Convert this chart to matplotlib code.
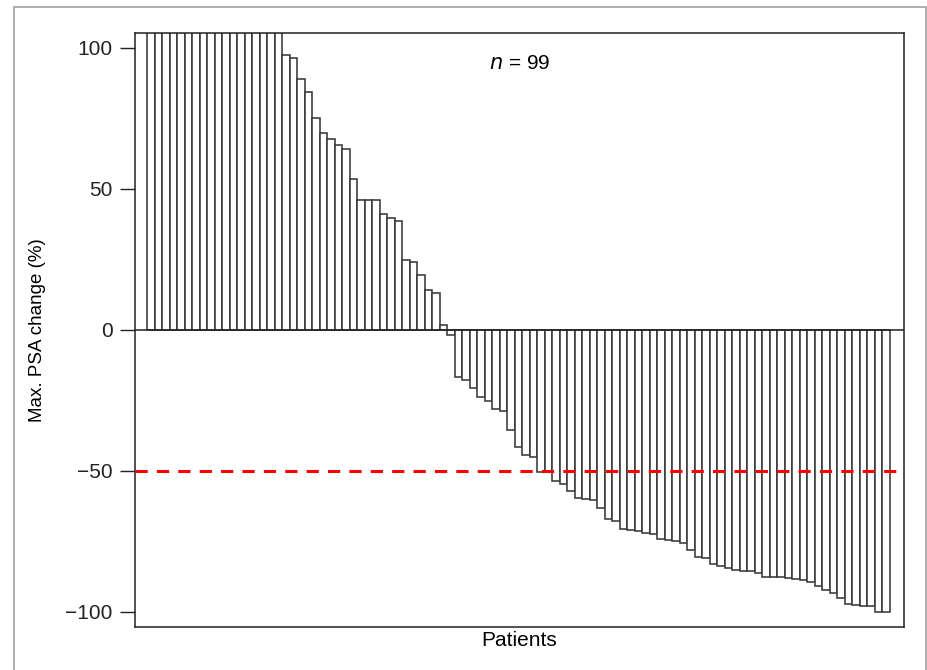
import matplotlib
matplotlib.use("Agg")
import matplotlib.pyplot as plt
from matplotlib.patches import Rectangle

plt.rcParams['font.family'] = ['Liberation Sans', 'DejaVu Sans']

# Bars that run off the top of the plot (values above the axis limit; estimated)
clipped = [400, 360, 320, 290, 260, 240, 220, 200, 185, 170, 160, 150, 140, 130, 125, 118, 112, 108]
# Visible positive changes
positive = [97.5, 96.3, 88.9, 84.2, 75.1, 69.7, 67.8, 65.7, 64.3, 53.4, 46.1, 46.1,
            46.1, 40.9, 39.7, 38.7, 24.9, 24.2, 19.5, 14.1, 13.1, 1.8]
# Negative changes
negative = [-1.8, -16.7, -17.8, -20.8, -23.8, -25.4, -28.1, -29.0, -35.6, -41.7,
            -44.4, -45.0, -50.4, -50.5, -53.8, -54.8, -57.1, -59.7, -60.0, -60.4,
            -63.2, -67.0, -67.8, -70.6, -71.0, -71.3, -72.0, -72.5, -74.2, -74.6,
            -75.1, -75.8, -78.1, -80.7, -81.1, -83.3, -83.9, -84.6, -85.2, -85.5,
            -85.6, -86.3, -87.6, -87.6, -87.8, -88.2, -88.4, -88.8, -89.6, -90.8,
            -92.3, -93.5, -95.1, -97.3, -97.6, -97.9, -98.2, -100.2, -100.3]

psa_change = clipped + positive + negative
patients = list(range(len(psa_change)))
y_ticks = [-100, -50, 0, 50, 100]
threshold = -50
n_label = "99"

fig = plt.figure(figsize=(9.28, 6.70), dpi=100)
fig.patch.set_facecolor('white')
# outer grey frame
fig.patches.append(Rectangle((14 / 928, -0.01), (926 - 14) / 928, 1 - 7 / 670 + 0.01,
                             transform=fig.transFigure, fill=False,
                             edgecolor='#a0a0a0', linewidth=1.2))

ax = fig.add_axes([135 / 928, 1 - 627 / 670, (904 - 135) / 928, (627 - 33) / 670])
ax.bar(patients, psa_change, width=1.0, color='white', edgecolor='#383838',
       linewidth=1.15, zorder=2)
ax.axhline(0, color='#222222', linewidth=1.1, zorder=3)
ax.axhline(threshold, color='#ff0000', linewidth=2.2, dashes=(4, 3), zorder=4)

ax.set_xlim(-2.14, 100.37)
ax.set_ylim(-105.5, 105.3)
ax.set_xticks([])
ax.set_yticks(y_ticks)
ax.set_yticklabels([f"{t}".replace('-', '\u2212') for t in y_ticks])
ax.tick_params(axis='y', length=11, width=1.0, pad=5, labelsize=15, colors='#222222')
for s in ax.spines.values():
    s.set_color('#222222')
    s.set_linewidth(1.1)

ax.set_xlabel("Patients", fontsize=15, labelpad=3)
ax.set_ylabel("Max. PSA change (%)", fontsize=13.5)
ax.yaxis.set_label_coords((46 - 135) / 769, 0.5)
ax.text(0.5, 0.948, "$n$ = " + n_label, transform=ax.transAxes, ha='center', va='center',
        fontsize=15)

fig.savefig("out.png", dpi=100)
